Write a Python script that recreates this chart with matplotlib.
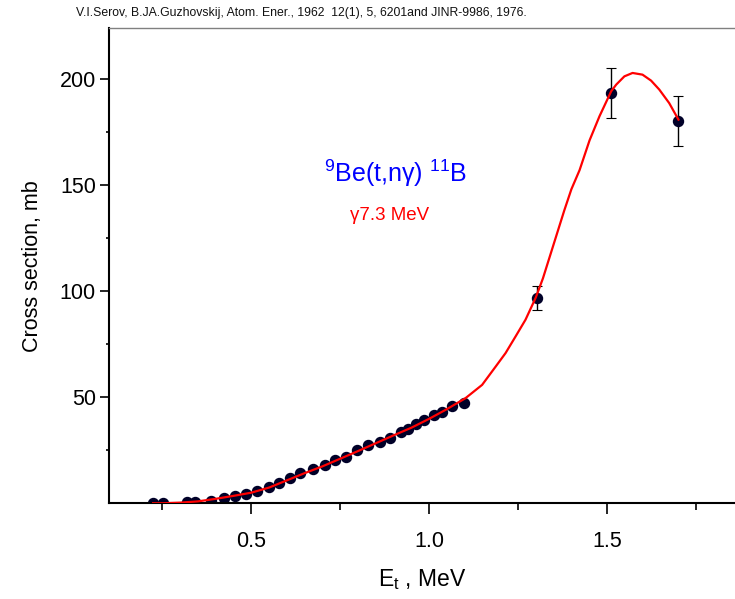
import matplotlib
matplotlib.use("Agg")
import matplotlib.pyplot as plt
from matplotlib.ticker import FixedLocator

plt.rcParams['font.family'] = ['Liberation Sans', 'DejaVu Sans']
plt.rcParams['mathtext.fontset'] = 'custom'
plt.rcParams['mathtext.rm'] = 'Liberation Sans'
plt.rcParams['mathtext.it'] = 'Liberation Sans'

# Low-energy data points (E_t in MeV, cross section in mb)
e_low = [0.224, 0.251, 0.320, 0.341, 0.388, 0.422, 0.453, 0.486, 0.516, 0.549,
         0.577, 0.610, 0.638, 0.673, 0.706, 0.734, 0.766, 0.797, 0.828, 0.862,
         0.890, 0.920, 0.942, 0.964, 0.986, 1.014, 1.037, 1.065, 1.098]
s_low = [0.0, 0.0, 0.4, 0.5, 1.3, 2.4, 3.4, 4.4, 5.7, 7.5,
         9.7, 12.1, 14.1, 16.0, 18.2, 20.3, 22.0, 25.2, 27.4, 29.1,
         31.0, 33.5, 35.2, 37.2, 39.3, 41.5, 43.1, 45.9, 47.2]

# High-energy data points with error bars
e_high = [1.303, 1.512, 1.700]
s_high = [96.7, 193.5, 180.0]
err_high = [5.5, 11.8, 11.8]

# Fitted curve
e_fit = [0.224, 0.25, 0.30, 0.35, 0.40, 0.45, 0.50, 0.55, 0.60, 0.65, 0.70,
         0.75, 0.80, 0.85, 0.90, 0.95, 1.00, 1.046, 1.102, 1.149, 1.187, 1.215,
         1.243, 1.271, 1.30, 1.32, 1.35, 1.38, 1.40, 1.423, 1.451, 1.479, 1.512,
         1.526, 1.549, 1.572, 1.600, 1.624, 1.647, 1.675, 1.701]
s_fit = [0.0, 0.0, 0.3, 0.9, 2.1, 3.5, 5.0, 7.4, 10.8, 14.2, 17.4,
         21.0, 24.6, 28.3, 32.0, 35.6, 39.8, 44.0, 49.5, 55.8, 64.4, 70.8,
         78.6, 86.5, 97.0, 106.0, 122.0, 138.0, 148.0, 157.0, 171.0, 182.4, 194.2,
         197.3, 201.2, 202.8, 202.0, 199.2, 195.0, 188.6, 180.8]

x_ticks = [0.5, 1.0, 1.5]
x_tick_labels = ['0.5', '1.0', '1.5']
x_minor = [0.25, 0.75, 1.25, 1.75]
y_ticks = [50, 100, 150, 200]
y_minor = [25, 75, 125, 175]

title = "V.I.Serov, B.JA.Guzhovskij, Atom. Ener., 1962  12(1), 5, 6201and JINR-9986, 1976."

fig = plt.figure(figsize=(7.35, 5.99), dpi=100)
ax = fig.add_axes([0.1483, 0.1598, 0.8517, 0.7935])

ax.plot(e_fit, s_fit, color='#ff0000', lw=1.6, zorder=3)
ax.plot(e_low, s_low, 'o', color='#000028', ms=7.2, zorder=2)
ax.errorbar(e_high, s_high, yerr=err_high, fmt='o', color='#000028', ms=7.2,
            ecolor='black', elinewidth=1.0, capsize=3.5, capthick=0.8, zorder=2)

ax.set_xlim(0.1, 1.86)
ax.set_ylim(0, 224)

ax.xaxis.set_major_locator(FixedLocator(x_ticks))
ax.xaxis.set_minor_locator(FixedLocator(x_minor))
ax.yaxis.set_major_locator(FixedLocator(y_ticks))
ax.yaxis.set_minor_locator(FixedLocator(y_minor))
ax.set_xticklabels(x_tick_labels)

ax.tick_params(axis='x', which='major', direction='out', length=8, width=1.2,
               labelsize=15.5, pad=12)
ax.tick_params(axis='x', which='minor', direction='out', length=5, width=1.2)
ax.tick_params(axis='y', which='major', direction='out', length=6.5, width=1.2,
               labelsize=15.5, pad=3)
ax.tick_params(axis='y', which='minor', direction='out', length=2.5, width=1.2)

ax.spines['right'].set_visible(False)
ax.spines['top'].set_color('#808080')
ax.spines['top'].set_linewidth(1.0)
ax.spines['left'].set_linewidth(1.5)
ax.spines['bottom'].set_linewidth(1.5)

ax.set_ylabel('Cross section, mb', fontsize=15.5, labelpad=12)
ax.set_xlabel(r'E$_{\mathrm{t}}$ , MeV', fontsize=16.5, labelpad=11)

fig.text(0.104, 0.978, title, fontsize=8.8, ha='left', va='center', color='#111111')

fig.text(0.538, 0.711, r'$^{9}$Be(t,n$\gamma$) $^{11}$B',
         fontsize=18, color='#0000ff', ha='center', va='center')
fig.text(0.530, 0.641, 'γ7.3 MeV',
         fontsize=13.5, color='#ff0000', ha='center', va='center')

fig.savefig('out.png', dpi=100)
